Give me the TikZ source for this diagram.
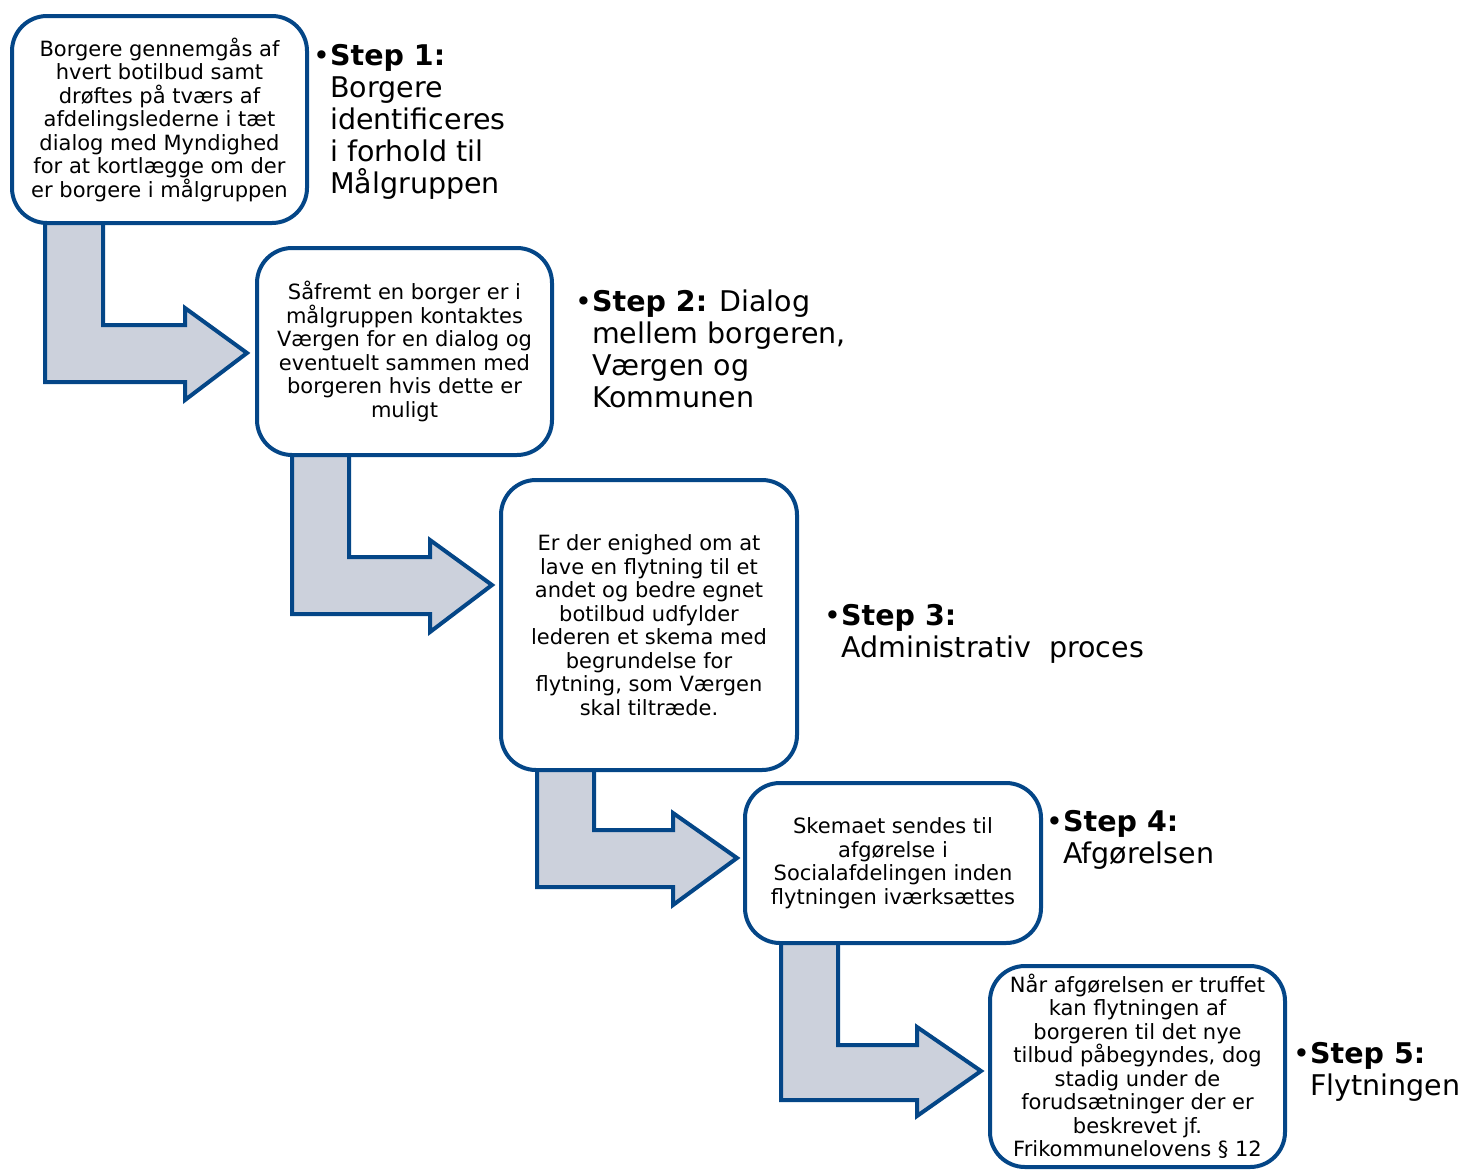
\documentclass[tikz,border=0pt]{standalone}
\usepackage{fontspec}
\setmainfont{DejaVu Sans}
\definecolor{navy}{RGB}{4,70,135}
\definecolor{armfill}{RGB}{204,209,220}
\tikzset{
  stepbox/.style={draw=navy, line width=4pt, fill=white, rounded corners=35pt,
    inner sep=0pt, align=center, font=\fontsize{21}{23.5}\selectfont},
  steplabel/.style={anchor=base west, inner sep=0pt, align=left,
    font=\fontsize{28.5}{32}\selectfont},
  bentarrow/.style={draw=navy, line width=4pt, fill=armfill, line join=miter}
}
\begin{document}
\begin{tikzpicture}[x=1pt,y=-1pt]
\useasboundingbox (0,0) rectangle (1463,1170);
% bent arrows (behind the boxes)
\draw[bentarrow] (45,210) -- (45,382) -- (185,382) -- (185,400) -- (247,353) -- (185,308) -- (185,325) -- (103,325) -- (103,210) -- cycle;
\draw[bentarrow] (292,440) -- (292,614) -- (430,614) -- (430,632) -- (492,585) -- (430,540) -- (430,557) -- (349,557) -- (349,440) -- cycle;
\draw[bentarrow] (537,755) -- (537,887) -- (673,887) -- (673,905) -- (737,858) -- (673,813) -- (673,830) -- (594,830) -- (594,755) -- cycle;
\draw[bentarrow] (781,930) -- (781,1100) -- (917,1100) -- (917,1116) -- (981,1071) -- (917,1027) -- (917,1045) -- (838,1045) -- (838,930) -- cycle;
% boxes
\node[stepbox, minimum width=295pt, minimum height=207pt] (b1) at (159.5,119.5)
  {Borgere gennemgås af\\hvert botilbud samt\\drøftes på tværs af\\afdelingslederne i tæt\\dialog med Myndighed\\for at kortlægge om der\\er borgere i målgruppen};
\node[stepbox, minimum width=295pt, minimum height=207pt] (b2) at (404.5,351.5)
  {Såfremt en borger er i\\målgruppen kontaktes\\Værgen for en dialog og\\eventuelt sammen med\\borgeren hvis dette er\\muligt};
\node[stepbox, minimum width=296pt, minimum height=290pt] (b3) at (649,625)
  {Er der enighed om at\\lave en flytning til et\\andet og bedre egnet\\botilbud udfylder\\lederen et skema med\\begrundelse for\\flytning, som Værgen\\skal tiltræde.};
\node[stepbox, minimum width=296pt, minimum height=160pt] (b4) at (893,863)
  {Skemaet sendes til\\afgørelse i\\Socialafdelingen inden\\flytningen iværksættes};
\node[stepbox, minimum width=295pt, minimum height=201pt] (b5) at (1137.5,1066.5)
  {Når afgørelsen er truffet\\kan flytningen af\\borgeren til det nye\\tilbud påbegyndes, dog\\stadig under de\\forudsætninger der er\\beskrevet jf.\\Frikommunelovens § 12};
% step labels (anchor at baseline of last line)
\node[steplabel] (s1) at (330,193) {\llap{•}\textbf{Step 1:}\\Borgere\\identificeres\\i forhold til\\Målgruppen};
\node[steplabel] (s2) at (592,407) {\llap{•}\textbf{Step 2:} Dialog\\mellem borgeren,\\Værgen og\\Kommunen};
\node[steplabel] (s3) at (841,657) {\llap{•}\textbf{Step 3:}\\Administrativ\ \ proces};
\node[steplabel] (s4) at (1063,863) {\llap{•}\textbf{Step 4:}\\Afgørelsen};
\node[steplabel] (s5) at (1310,1095) {\llap{•}\textbf{Step 5:}\\Flytningen};
\end{tikzpicture}
\end{document}
